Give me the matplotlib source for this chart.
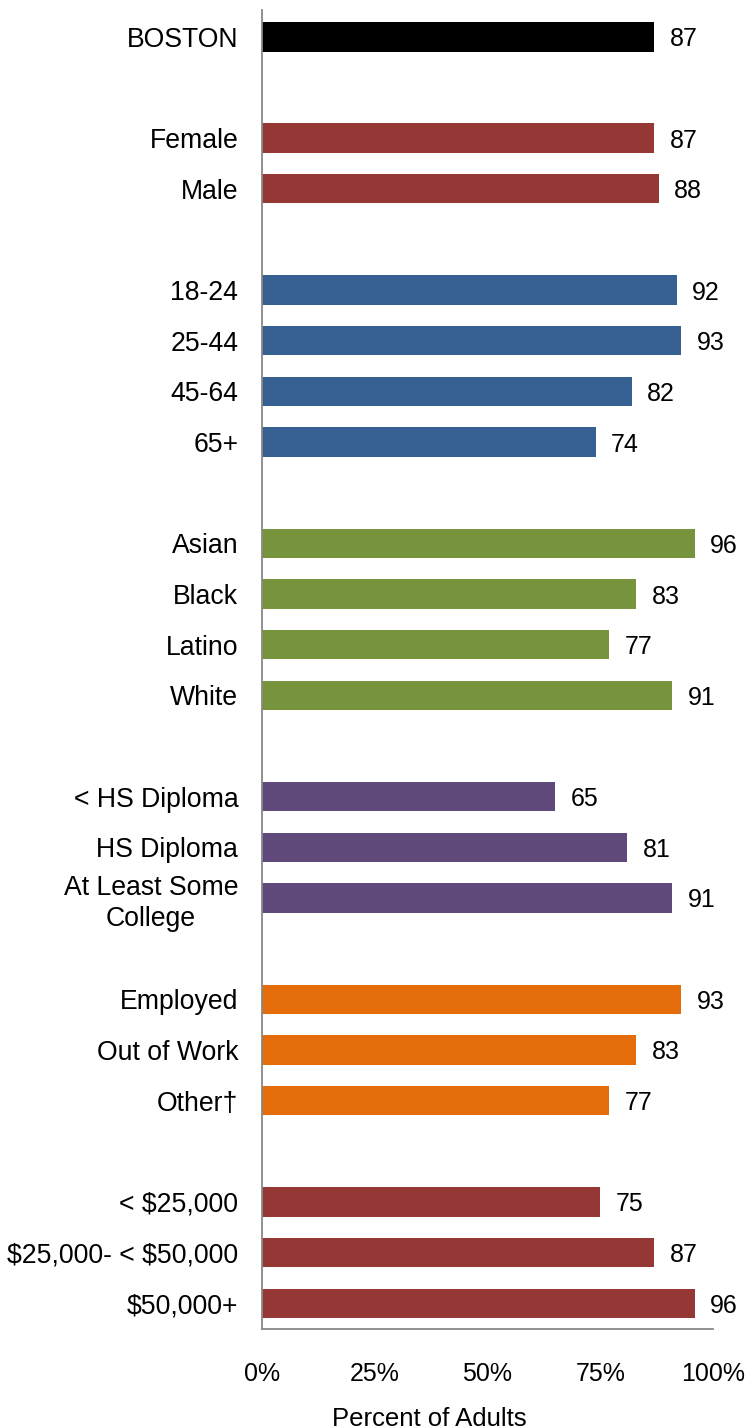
import matplotlib
matplotlib.use("Agg")
import matplotlib.pyplot as plt
import numpy as np

plt.rcParams['font.family'] = ['Liberation Sans', 'DejaVu Sans']
plt.rcParams['text.parse_math'] = False

# rows top to bottom, None marks a blank spacer row
labels = ["BOSTON", None,
          "Female", "Male", None,
          "18-24", "25-44", "45-64", "65+", None,
          "Asian", "Black", "Latino", "White", None,
          "< HS Diploma", "HS Diploma", "At Least Some\nCollege", None,
          "Employed", "Out of Work", "Other\u2020", None,
          "< $25,000", "$25,000- < $50,000", "$50,000+"]
values = [87, None,
          87, 88, None,
          92, 93, 82, 74, None,
          96, 83, 77, 91, None,
          65, 81, 91, None,
          93, 83, 77, None,
          75, 87, 96]
groups = ["total", None,
          "gender", "gender", None,
          "age", "age", "age", "age", None,
          "race", "race", "race", "race", None,
          "edu", "edu", "edu", None,
          "emp", "emp", "emp", None,
          "income", "income", "income"]
group_colors = {"total": "#000000", "gender": "#953735", "age": "#366092",
                "race": "#77933C", "edu": "#604A7B", "emp": "#E46C0A",
                "income": "#953735"}
xticks = [0, 25, 50, 75, 100]
xtick_labels = ["0%", "25%", "50%", "75%", "100%"]

fig = plt.figure(figsize=(7.47, 14.28), dpi=100)
ax = fig.add_axes([0.3507, 0.0693, 0.6038, 0.9237])

pos = [i for i, v in enumerate(values) if v is not None]
vals = [values[i] for i in pos]
cols = [group_colors[groups[i]] for i in pos]
ax.barh(pos, vals, height=0.58, color=cols)

for p, v in zip(pos, vals):
    ax.annotate(str(v), (v, p), xytext=(11, 0), textcoords="offset points",
                ha="left", va="center_baseline", fontsize=18)

ax.set_yticks(pos)
ax.set_yticklabels([labels[i] for i in pos], fontsize=19.2)
for t in ax.get_yticklabels():
    if "\n" in t.get_text():
        t.set_multialignment("center")
        t.set_linespacing(1.25)
ax.tick_params(axis="y", length=0, pad=17)

ax.set_xlim(0, 100)
ax.set_ylim(25.51, -0.53)
ax.set_xticks(xticks)
ax.set_xticklabels(xtick_labels, fontsize=18)
ax.tick_params(axis="x", length=0, pad=24)
ax.set_xlabel("Percent of Adults", fontsize=18.5)
ax.xaxis.set_label_coords(0.372, -0.059, transform=ax.transAxes)
ax.xaxis.label.set_va("top")

for s in ["top", "right"]:
    ax.spines[s].set_visible(False)
for s in ["left", "bottom"]:
    ax.spines[s].set_color("#888888")
    ax.spines[s].set_linewidth(1.3)

fig.savefig("out.png", dpi=100)
